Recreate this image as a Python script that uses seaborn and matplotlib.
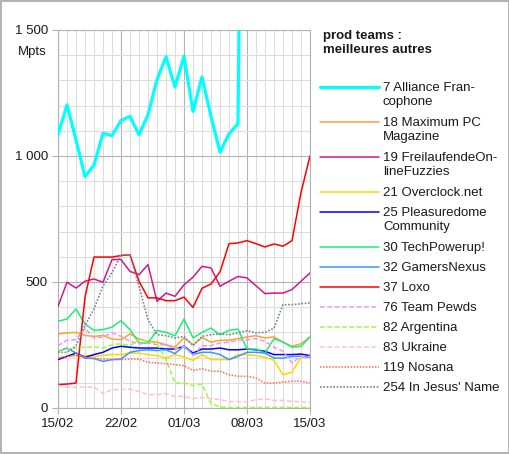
import numpy as np
import pandas as pd
import matplotlib
matplotlib.use("Agg")
import matplotlib.pyplot as plt
import seaborn as sns
from matplotlib.lines import Line2D
from matplotlib.ticker import FuncFormatter, MultipleLocator
import matplotlib.dates as mdates

# ---------------- data ----------------
dates = pd.date_range("2021-02-15", "2021-03-15", freq="D")
x_tick_labels = ["15/02", "22/02", "01/03", "08/03", "15/03"]
y_ticks = [0, 500, 1000, 1500]

teams = ["7 Alliance Francophone", "18 Maximum PC Magazine", "19 FreilaufendeOnlineFuzzies",
         "21 Overclock.net", "25 Pleasuredome Community", "30 TechPowerup!", "32 GamersNexus",
         "37 Loxo", "76 Team Pewds", "82 Argentina", "83 Ukraine", "119 Nosana", "254 In Jesus' Name"]
legend_labels = ["7 Alliance Fran-\ncophone", "18 Maximum PC\nMagazine", "19 FreilaufendeOn-\nlineFuzzies",
                 "21 Overclock.net", "25 Pleasuredome\nCommunity", "30 TechPowerup!", "32 GamersNexus",
                 "37 Loxo", "76 Team Pewds", "82 Argentina", "83 Ukraine", "119 Nosana", "254 In Jesus' Name"]

alliance = [1084, 1203, 1064, 918, 964, 1090, 1081, 1141, 1157, 1084, 1164, 1303, 1394, 1274, 1396,
            1177, 1314, 1157, 1015, 1088, 1128, 4480, 4500, 4520, 4540, 4560, 4580, 4600, 4620]
maxpc = [294, 298, 300, 288, 284, 288, 274, 271, 294, 274, 265, 261, 251, 242, 278,
         251, 280, 261, 269, 269, 275, 282, 287, 278, 282, 261, 245, 255, 282]
fuzzies = [403, 499, 476, 503, 512, 499, 589, 589, 542, 529, 569, 423, 456, 443, 489,
           519, 562, 556, 483, 503, 522, 516, 485, 454, 456, 456, 470, 503, 536]
overclock = [201, 205, 208, 208, 205, 209, 212, 212, 218, 218, 212, 208, 198, 212, 202,
             189, 212, 192, 192, 192, 212, 212, 208, 201, 189, 132, 142, 201, 205]
pleasuredome = [192, 205, 218, 201, 212, 221, 238, 245, 241, 238, 238, 238, 234, 234, 245,
                218, 234, 234, 238, 231, 231, 234, 231, 225, 212, 212, 212, 214, 208]
techpowerup = [344, 353, 393, 333, 308, 311, 321, 347, 311, 258, 258, 308, 300, 287, 353,
               278, 300, 317, 291, 308, 313, 234, 234, 218, 275, 262, 241, 245, 282]
gamersnexus = [225, 238, 218, 198, 196, 185, 192, 194, 221, 228, 231, 228, 231, 216, 247,
               212, 221, 221, 212, 192, 205, 221, 221, 218, 198, 198, 205, 205, 202]
loxo = [93, 95, 99, 440, 599, 599, 599, 605, 608, 503, 437, 437, 426, 426, 440,
        399, 475, 492, 540, 652, 655, 664, 652, 639, 651, 642, 664, 855, 1000]
pewds = [247, 269, 271, 317, 278, 282, 298, 284, 265, 255, 258, 251, 251, 234, 245,
         208, 247, 247, 258, 261, 269, 271, 275, 265, 241, 225, 179, 205, 205]
argentina = [229, 234, 238, 242, 242, 238, 251, 255, 247, 271, 265, 255, 192, 99, 99,
             89, 95, 17, 4, 2, 2, 2, 2, 2, 2, 2, 2, 2, 2]
ukraine = [90, 83, 82, 83, 83, 57, 73, 73, 75, 66, 53, 53, 57, 46, 46,
           37, 42, 37, 33, 26, 26, 24, 33, 36, 30, 30, 26, 25, 22]
nosana = [198, 205, 208, 202, 198, 194, 192, 192, 194, 194, 181, 179, 176, 172, 168,
          149, 156, 146, 146, 132, 126, 126, 119, 99, 99, 103, 106, 106, 99]
jesus = [221, 221, 247, 327, 393, 485, 536, 608, 608, 483, 350, 291, 287, 278, 284,
         247, 284, 291, 294, 291, 298, 307, 298, 300, 317, 410, 410, 414, 417]

series = [alliance, maxpc, fuzzies, overclock, pleasuredome, techpowerup, gamersnexus,
          loxo, pewds, argentina, ukraine, nosana, jesus]

# ---------------- styles ----------------
colors = ["#00ffff", "#ffa033", "#cc1a8a", "#ffd700", "#0000ff", "#1aee77", "#3399ff",
          "#ff0000", "#e899e8", "#99ff33", "#ffc0cb", "#ff6a50", "#7a8494"]
widths = [2.3, 1.1, 1.1, 1.1, 1.1, 1.1, 1.1, 1.1, 1.1, 1.1, 1.1, 1.1, 1.2]
dash_styles = ["", "", "", "", "", "", "", "", (3.2, 1.6), (3.2, 1.6), (3.2, 1.6), (1.0, 1.0), (1.0, 1.0)]

df = pd.DataFrame({
    "date": np.tile(dates, len(teams)),
    "team": np.repeat(teams, len(dates)),
    "value": np.concatenate([np.array(s, dtype=float) for s in series]),
})

sns.set_theme(style="white")
plt.rcParams["font.family"] = ["Liberation Sans", "DejaVu Sans"]
TXT = "#1a1a1a"
GRID_MAJ = "#b3b3b3"
GRID_MIN = "#dddddd"
FS = 9.5

W, H = 510, 454
fig = plt.figure(figsize=(W / 100, H / 100), dpi=100)
fig.patch.set_facecolor("white")
fig.patch.set_edgecolor(GRID_MAJ)
fig.patch.set_linewidth(1.5)

ax = fig.add_axes([58 / W, 1 - 408 / H, 252 / W, 378 / H])

sns.lineplot(data=df, x="date", y="value", hue="team", hue_order=teams,
             palette=dict(zip(teams, colors)),
             size="team", size_order=teams, sizes=dict(zip(teams, widths)),
             style="team", style_order=teams, dashes=dict(zip(teams, dash_styles)),
             legend=False, ax=ax, zorder=3)

ax.set_xlim(dates[0], dates[-1])
ax.set_ylim(y_ticks[0], y_ticks[-1])
ax.set_xlabel("")
ax.set_ylabel("")

tick_dates = dates[::7]
ax.set_xticks(tick_dates)
ax.set_xticklabels(x_tick_labels)
ax.xaxis.set_minor_locator(mdates.DayLocator())
ax.set_yticks(y_ticks)
ax.yaxis.set_major_formatter(FuncFormatter(lambda v, p: f"{int(v):,}".replace(",", " ")))
ax.yaxis.set_minor_locator(MultipleLocator(100))

ax.grid(True, which="minor", color=GRID_MIN, linewidth=0.8, zorder=0)
ax.grid(True, which="major", color=GRID_MAJ, linewidth=0.8, zorder=0)
ax.set_axisbelow(True)
for sp in ax.spines.values():
    sp.set_color(GRID_MAJ)
    sp.set_linewidth(0.8)
ax.tick_params(which="major", length=4.2, width=0.8, color=GRID_MAJ, labelsize=FS,
               labelcolor=TXT, pad=3, left=True, bottom=True)
ax.tick_params(which="minor", length=0)

fig.text(32 / W, 1 - 52 / H, "Mpts", ha="center", va="center", fontsize=FS, color=TXT)

# ---------------- legend (manual, LibreOffice-like) ----------------
fig.text(323 / W, 1 - 29.5 / H, "prod teams :\nmeilleures autres", ha="left", va="top",
         fontsize=FS, fontweight="bold", color=TXT, linespacing=1.3)

hy = 86.7
for lab, c, lw, ds in zip(legend_labels, colors, widths, dash_styles):
    ln = Line2D([320 / W, 379 / W], [1 - hy / H, 1 - hy / H], color=c, linewidth=lw,
                transform=fig.transFigure)
    if ds:
        ln.set_dashes(ds)
    fig.add_artist(ln)
    fig.text(383 / W, 1 - (hy - 4.5) / H, lab, ha="left", va="top", fontsize=FS,
             color=TXT, linespacing=1.22)
    nlines = lab.count("\n") + 1
    hy += 20 + 15 * (nlines - 1)

fig.savefig("out.png", dpi=100, facecolor="white", edgecolor=GRID_MAJ)
